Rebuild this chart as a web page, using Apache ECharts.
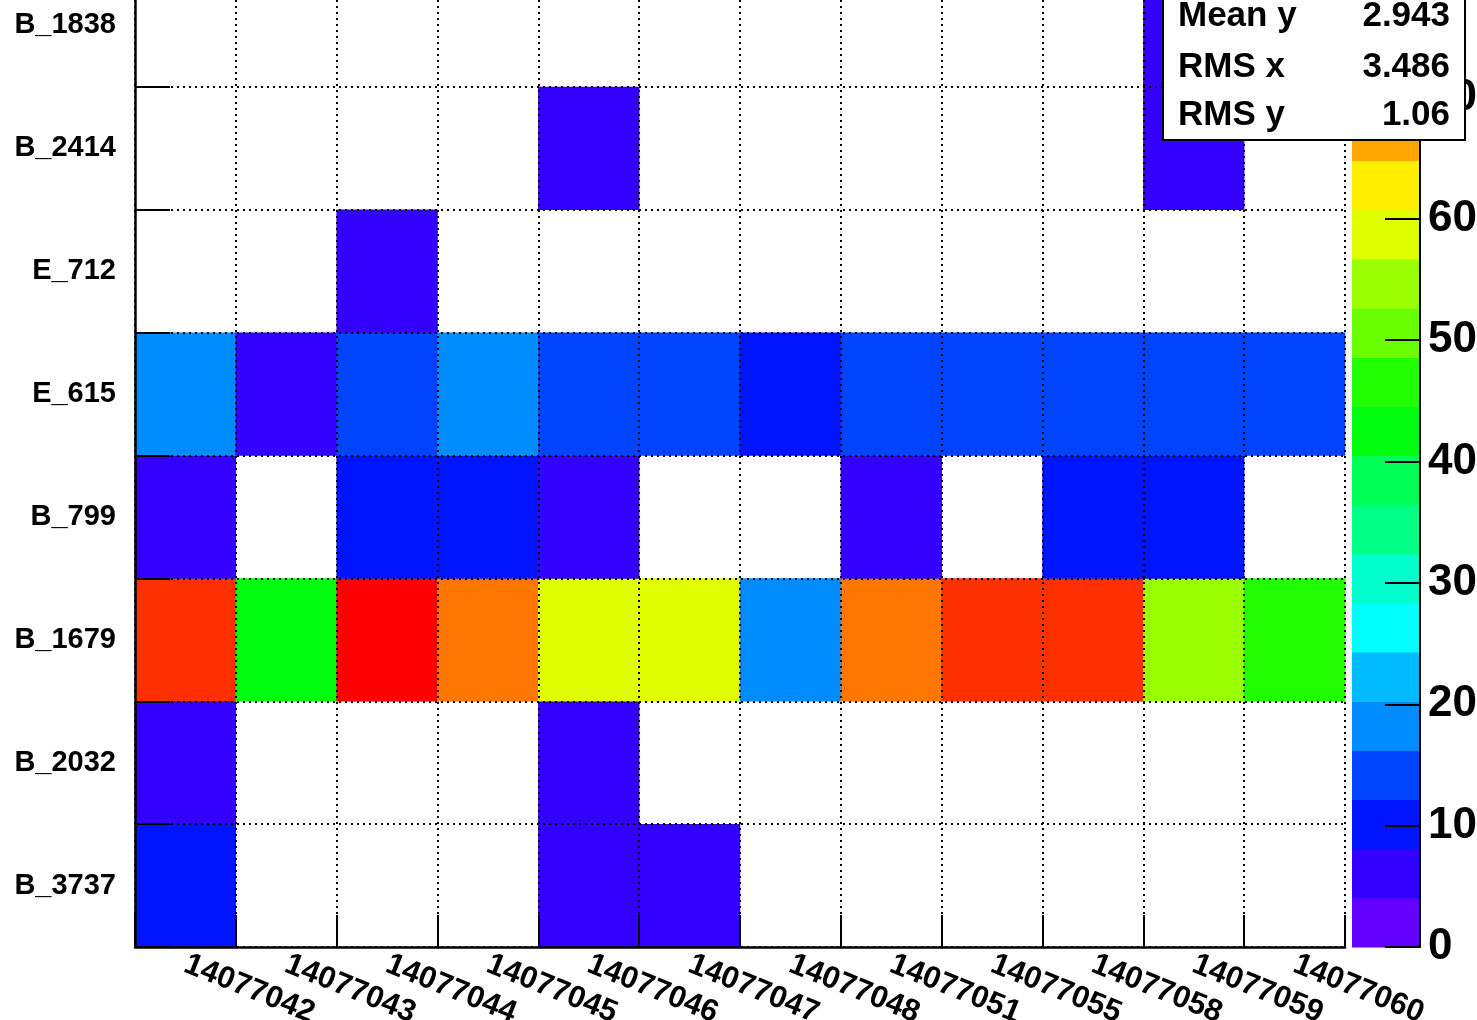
<!DOCTYPE html>
<html><head><meta charset="utf-8">
<script src="https://cdn.jsdelivr.net/npm/echarts@6/dist/echarts.min.js"></script>
<style>html,body{margin:0;padding:0;background:#fff}#c{width:1477px;height:1020px}</style>
</head><body><div id="c"></div>
<script>
// x categories (run numbers)
const runs = ['14077042','14077043','14077044','14077045','14077046','14077047','14077048','14077051','14077055','14077058','14077059','14077060'];
// y categories, bottom to top
const detectors = ['B_3737','B_2032','B_1679','B_799','E_615','E_712','B_2414','B_1838'];
// bin contents per detector row (null = empty bin)
const row_B_3737 = [10,null,null,null,6,6,null,null,null,null,null,null];
const row_B_2032 = [6,null,null,null,6,null,null,null,null,null,null,null];
const row_B_1679 = [75,43,81,71,59,59,18,71,75,75,55,46];
const row_B_799  = [6,null,10,10,6,null,null,6,null,10,10,null];
const row_E_615  = [18,6,14,18,14,14,10,14,14,14,14,14];
const row_E_712  = [null,null,6,null,null,null,null,null,null,null,null,null];
const row_B_2414 = [null,null,null,null,6,null,null,null,null,null,6,null];
const row_B_1838 = [null,null,null,null,null,null,null,null,null,null,6,null];
const rows = [row_B_3737,row_B_2032,row_B_1679,row_B_799,row_E_615,row_E_712,row_B_2414,row_B_1838];
// colour scale
const zMin = 0, zMax = 81, nLevels = 20, zTickStep = 10;
const palette = ['#6300ff','#3300ff','#0014ff','#0044ff','#008bff','#00bbff','#00fffc','#00ffcc','#00ff85','#00ff55',
                 '#00ff0e','#22ff00','#69ff00','#99ff00','#e0ff00','#ffee00','#ffa700','#ff7700','#ff3000','#ff0000'];
// statistics box
const statNames = ['Mean y','RMS x','RMS y'];
const statValues = ['2.943','3.486','1.06'];

const FONT = '"Liberation Sans", Arial, Helvetica, sans-serif';
const step = (zMax - zMin) / nLevels;

const heatData = [];
rows.forEach((r, yi) => r.forEach((v, xi) => { if (v !== null) heatData.push([xi, yi, v]); }));

const pieces = palette.map((c, k) => k === nLevels - 1
  ? { gte: zMin + k * step, lte: zMax + 1e-9, color: c }
  : { gte: zMin + k * step, lt: zMin + (k + 1) * step, color: c });

const bands = palette.map((c, k) => [zMin + k * step, zMin + (k + 1) * step, k]);

const statGraphics = [{
  type: 'rect', shape: { x: 1163, y: -100, width: 302, height: 240 },
  style: { fill: '#fff', stroke: '#000', lineWidth: 2 }, z: 100
}];
statNames.forEach((n, i) => {
  const y = [16, 67, 115][i];
  statGraphics.push({ type: 'text', x: 1178, y: y, z: 101,
    style: { text: n, font: 'bold 35px ' + FONT, fill: '#000', textAlign: 'left', textVerticalAlign: 'middle' } });
  statGraphics.push({ type: 'text', x: 1450, y: y, z: 101,
    style: { text: statValues[i], font: 'bold 35px ' + FONT, fill: '#000', textAlign: 'right', textVerticalAlign: 'middle' } });
});

const dotted = { show: true, interval: 0, lineStyle: { color: '#000', width: 2, type: [2, 4] } };

const option = {
  animation: false,
  backgroundColor: '#fff',
  grid: [
    { left: 135, right: 132, top: -36, bottom: 73, outerBoundsMode: 'none', containLabel: false },
    { left: 1352, right: 57, top: -36, bottom: 73, outerBoundsMode: 'none', containLabel: false }
  ],
  xAxis: [{
    type: 'category', data: runs, gridIndex: 0, z: 5,
    axisLine: { show: true, lineStyle: { color: '#000', width: 2.5 } },
    axisTick: { show: true, inside: true, length: 32, interval: 0, lineStyle: { color: '#000', width: 2 } },
    axisLabel: { interval: 0, rotate: -22, margin: 16, color: '#000', fontFamily: FONT, fontWeight: 'bold', fontSize: 31 },
    splitLine: dotted
  }, {
    type: 'value', gridIndex: 1, min: 0, max: 1, show: false
  }],
  yAxis: [{
    type: 'category', data: detectors, gridIndex: 0, z: 5,
    axisLine: { show: true, lineStyle: { color: '#000', width: 2.5 } },
    axisTick: { show: true, inside: true, length: 35, interval: 0, lineStyle: { color: '#000', width: 2 } },
    axisLabel: { interval: 0, margin: 19, color: '#000', fontFamily: FONT, fontWeight: 'bold', fontSize: 29 },
    splitLine: dotted
  }, {
    type: 'value', gridIndex: 1, position: 'right', min: zMin, max: zMax, interval: zTickStep, z: 5,
    axisLine: { show: true, onZero: false, lineStyle: { color: '#000', width: 2 } },
    axisTick: { show: true, inside: true, length: 35, lineStyle: { color: '#000', width: 2 } },
    axisLabel: { margin: 8, color: '#000', fontFamily: FONT, fontWeight: 'bold', fontSize: 44, showMaxLabel: false },
    splitLine: { show: false }
  }],
  visualMap: { type: 'piecewise', show: false, seriesIndex: 0, pieces: pieces },
  series: [{
    type: 'heatmap', xAxisIndex: 0, yAxisIndex: 0, data: heatData, z: 2,
    itemStyle: { borderWidth: 0 }
  }, {
    type: 'custom', xAxisIndex: 1, yAxisIndex: 1, data: bands, z: 2,
    renderItem: (params, api) => {
      const p1 = api.coord([0, api.value(0)]);
      const p2 = api.coord([1, api.value(1)]);
      return { type: 'rect', shape: { x: p1[0], y: p2[1], width: p2[0] - p1[0], height: p1[1] - p2[1] + 0.5 },
               style: { fill: palette[api.value(2)] } };
    }
  }],
  graphic: statGraphics
};
echarts.init(document.getElementById('c'), null, { renderer: 'canvas' }).setOption(option);
</script></body></html>
